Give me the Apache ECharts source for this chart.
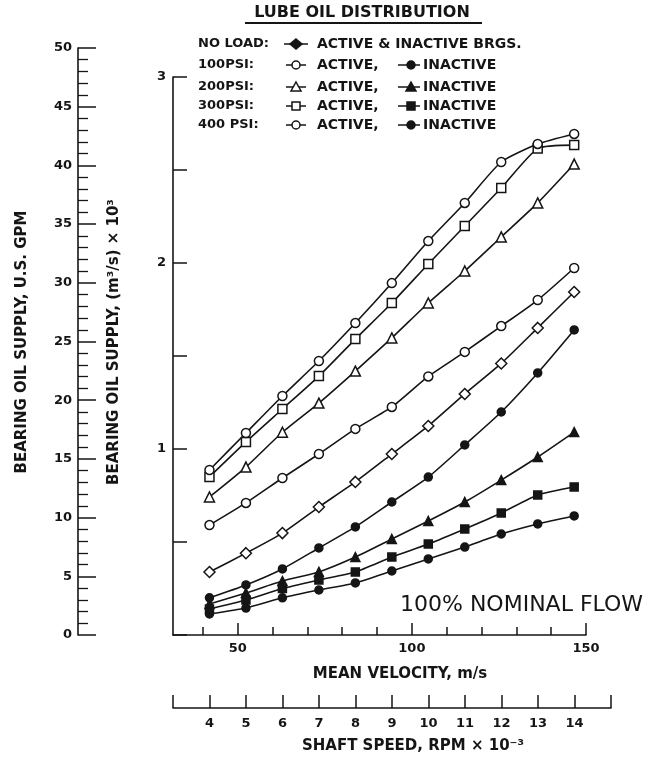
<!DOCTYPE html>
<html>
<head>
<meta charset="utf-8">
<script src="https://cdn.jsdelivr.net/npm/echarts@6/dist/echarts.min.js"></script>
<style>
  html, body { margin: 0; padding: 0; background: #fff; }
  #chart { width: 662px; height: 757px; }
</style>
</head>
<body>
<div id="chart"></div>
<script>
// shaft speed, RPM x 10^-3 (measurement points)
var shaftSpeed = [4, 5, 6, 7, 8, 9, 10, 11, 12, 13, 14];

// bearing oil supply, (m3/s) x 10^3
var noLoad         = [0.339, 0.440, 0.548, 0.688, 0.823, 0.973, 1.124, 1.296, 1.460, 1.651, 1.844];
var psi100Active   = [0.591, 0.710, 0.844, 0.973, 1.108, 1.226, 1.390, 1.522, 1.661, 1.801, 1.973];
var psi100Inactive = [0.113, 0.145, 0.200, 0.242, 0.280, 0.344, 0.409, 0.473, 0.543, 0.597, 0.640];
var psi200Active   = [0.742, 0.903, 1.090, 1.247, 1.419, 1.597, 1.785, 1.957, 2.140, 2.323, 2.532];
var psi200Inactive = [0.167, 0.226, 0.290, 0.339, 0.419, 0.516, 0.613, 0.715, 0.833, 0.957, 1.091];
var psi300Active   = [0.850, 1.038, 1.215, 1.392, 1.591, 1.785, 1.995, 2.199, 2.403, 2.615, 2.634];
var psi300Inactive = [0.140, 0.188, 0.250, 0.296, 0.339, 0.419, 0.489, 0.570, 0.656, 0.753, 0.796];
var psi400Active   = [0.887, 1.086, 1.285, 1.473, 1.677, 1.892, 2.118, 2.323, 2.543, 2.640, 2.694];
var psi400Inactive = [0.200, 0.269, 0.355, 0.468, 0.581, 0.715, 0.849, 1.022, 1.199, 1.409, 1.640];

// axis ticks
var velocityLabels = [50, 100, 150];
var velocityMinor  = [40, 60, 70, 80, 90, 110, 120, 130, 140];

// mean velocity = pi * 0.2 m * rpm / 60  ->  m/s per 1000 rpm
var VEL_PER_KRPM = 10.472;
var RPM_MIN = 3;
var VEL_MAX = 150;

var INK = '#151515';
var FONT = 'DejaVu Sans';

var chart = echarts.init(document.getElementById('chart'));

function pts(arr) {
    return shaftSpeed.map(function (s, i) { return [s, arr[i]]; });
}

function line(name, arr, symbol, size, filled) {
    return {
        name: name,
        type: 'line',
        xAxisIndex: 0,
        yAxisIndex: 0,
        data: pts(arr),
        smooth: 0.2,
        symbol: symbol,
        symbolSize: size,
        showSymbol: true,
        lineStyle: { color: INK, width: 1.6 },
        itemStyle: { color: filled ? INK : '#fff', borderColor: INK, borderWidth: 1.5 },
        z: filled ? 4 : 3
    };
}

/* legend drawn by hand */
function sym(kind, x, y, filled) {
    var st = { fill: filled ? INK : '#fff', stroke: INK, lineWidth: 1.5 };
    if (kind === 'circle') return { type: 'circle', shape: { cx: x, cy: y, r: 4 }, style: st, z: 10 };
    if (kind === 'rect') return { type: 'rect', shape: { x: x - 4, y: y - 4, width: 8, height: 8 }, style: st, z: 10 };
    if (kind === 'triangle') return { type: 'polygon', shape: { points: [[x, y - 5], [x + 5, y + 4], [x - 5, y + 4]] }, style: st, z: 10 };
    return { type: 'polygon', shape: { points: [[x, y - 5], [x + 6, y], [x, y + 5], [x - 6, y]] }, style: st, z: 10 };
}
function seg(x1, x2, y) {
    return { type: 'line', shape: { x1: x1, y1: y, x2: x2, y2: y }, style: { stroke: INK, lineWidth: 1.5 }, z: 9 };
}
function txt(s, x, y, size, weight, align) {
    return {
        type: 'text', x: x, y: y, z: 10,
        style: {
            text: s, fill: INK, font: (weight || 'bold') + ' ' + size + 'px "' + FONT + '"',
            align: align || 'left', verticalAlign: 'middle',
            textAlign: align || 'left', textVerticalAlign: 'middle'
        }
    };
}

var graphics = [];
graphics.push(txt('LUBE OIL DISTRIBUTION', 362, 13, 16, 'bold', 'center'));
graphics.push({ type: 'line', shape: { x1: 245, y1: 23, x2: 482, y2: 23 }, style: { stroke: INK, lineWidth: 2 } });

var rowY = [44, 65, 87, 106, 125];
graphics.push(txt('NO LOAD:', 198, rowY[0], 13));
graphics.push(seg(284, 308, rowY[0]), sym('diamond', 296, rowY[0], true));
graphics.push(txt('ACTIVE & INACTIVE BRGS.', 317, rowY[0], 14));

var rows = [['100PSI:', 'circle'], ['200PSI:', 'triangle'], ['300PSI:', 'rect'], ['400 PSI:', 'circle']];
rows.forEach(function (r, i) {
    var y = rowY[i + 1];
    graphics.push(txt(r[0], 198, y, 13));
    graphics.push(seg(286, 306, y), sym(r[1], 296, y, false));
    graphics.push(txt('ACTIVE,', 317, y, 14));
    graphics.push(seg(398, 420, y), sym(r[1], 411, y, true));
    graphics.push(txt('INACTIVE', 423, y, 14));
});

graphics.push(txt('100% NOMINAL FLOW', 400, 605, 22, 'normal'));
graphics.push(txt('MEAN VELOCITY, m/s', 400, 674, 15, 'bold', 'center'));
graphics.push(txt('SHAFT SPEED, RPM × 10⁻³', 413, 746, 15, 'bold', 'center'));
var v1 = txt('BEARING OIL SUPPLY, U.S. GPM', 22, 342, 15, 'bold', 'center');
v1.rotation = Math.PI / 2;
var v2 = txt('BEARING OIL SUPPLY, (m³/s) × 10³', 114, 342, 15, 'bold', 'center');
v2.rotation = Math.PI / 2;
graphics.push(v1, v2);

var labelStyle = { color: INK, fontFamily: FONT, fontWeight: 'bold', fontSize: 13 };
var axisLine = { show: true, lineStyle: { color: INK, width: 1.6 } };

var option = {
    backgroundColor: '#ffffff',
    animation: false,
    grid: [
        { left: 173, top: 77, width: 413, height: 558 },   // main plot
        { left: 78, top: 48, width: 1, height: 587 },      // GPM scale
        { left: 173, top: 690, width: 438, height: 18 }    // shaft speed scale
    ],
    xAxis: [
        { type: 'value', gridIndex: 0, position: 'bottom', show: false,
          min: RPM_MIN, max: VEL_MAX / VEL_PER_KRPM },
        { type: 'value', gridIndex: 0, position: 'bottom',
          min: RPM_MIN * VEL_PER_KRPM, max: VEL_MAX,
          axisLine: axisLine,
          axisTick: { show: true, inside: true, length: 12, customValues: velocityLabels, lineStyle: { color: INK, width: 1.5 } },
          axisLabel: Object.assign({ margin: 7, customValues: velocityLabels }, labelStyle),
          splitLine: { show: false } },
        { type: 'value', gridIndex: 0, position: 'bottom',
          min: RPM_MIN * VEL_PER_KRPM, max: VEL_MAX,
          axisLine: { show: false },
          axisTick: { show: true, inside: true, length: 8, customValues: velocityMinor, lineStyle: { color: INK, width: 1.5 } },
          axisLabel: { show: false },
          splitLine: { show: false } },
        { type: 'value', gridIndex: 1, show: false },
        { type: 'value', gridIndex: 2, position: 'bottom',
          min: 3, max: 15, interval: 1,
          axisLine: axisLine,
          axisTick: { show: true, inside: true, length: 13, lineStyle: { color: INK, width: 1.5 } },
          axisLabel: Object.assign({ margin: 9, formatter: function (v) { return (v === 3 || v === 15) ? '' : v; } }, labelStyle),
          splitLine: { show: false } }
    ],
    yAxis: [
        { type: 'value', gridIndex: 0, position: 'left',
          min: 0, max: 3, interval: 0.5,
          axisLine: axisLine,
          axisTick: { show: true, inside: true, length: 14, lineStyle: { color: INK, width: 1.5 } },
          axisLabel: Object.assign({ margin: 7, formatter: function (v) { return (v > 0 && v % 1 === 0) ? v : ''; } }, labelStyle),
          splitLine: { show: false } },
        { type: 'value', gridIndex: 1, position: 'left',
          min: 0, max: 50, interval: 5,
          axisLine: axisLine,
          axisTick: { show: true, inside: true, length: 18, lineStyle: { color: INK, width: 1.5 } },
          minorTick: { show: true, splitNumber: 5, length: 10, lineStyle: { color: INK, width: 1.3 } },
          axisLabel: Object.assign({ margin: 6 }, labelStyle),
          splitLine: { show: false }, minorSplitLine: { show: false } },
        { type: 'value', gridIndex: 2, show: false }
    ],
    graphic: graphics,
    series: [
        line('No load', noLoad, 'diamond', 11, false),
        line('100 PSI active', psi100Active, 'circle', 9, false),
        line('100 PSI inactive', psi100Inactive, 'circle', 8, true),
        line('200 PSI active', psi200Active, 'triangle', 10, false),
        line('200 PSI inactive', psi200Inactive, 'triangle', 9, true),
        line('300 PSI active', psi300Active, 'rect', 9, false),
        line('300 PSI inactive', psi300Inactive, 'rect', 8, true),
        line('400 PSI active', psi400Active, 'circle', 9, false),
        line('400 PSI inactive', psi400Inactive, 'circle', 8, true)
    ]
};
chart.setOption(option);
</script>
</body>
</html>
